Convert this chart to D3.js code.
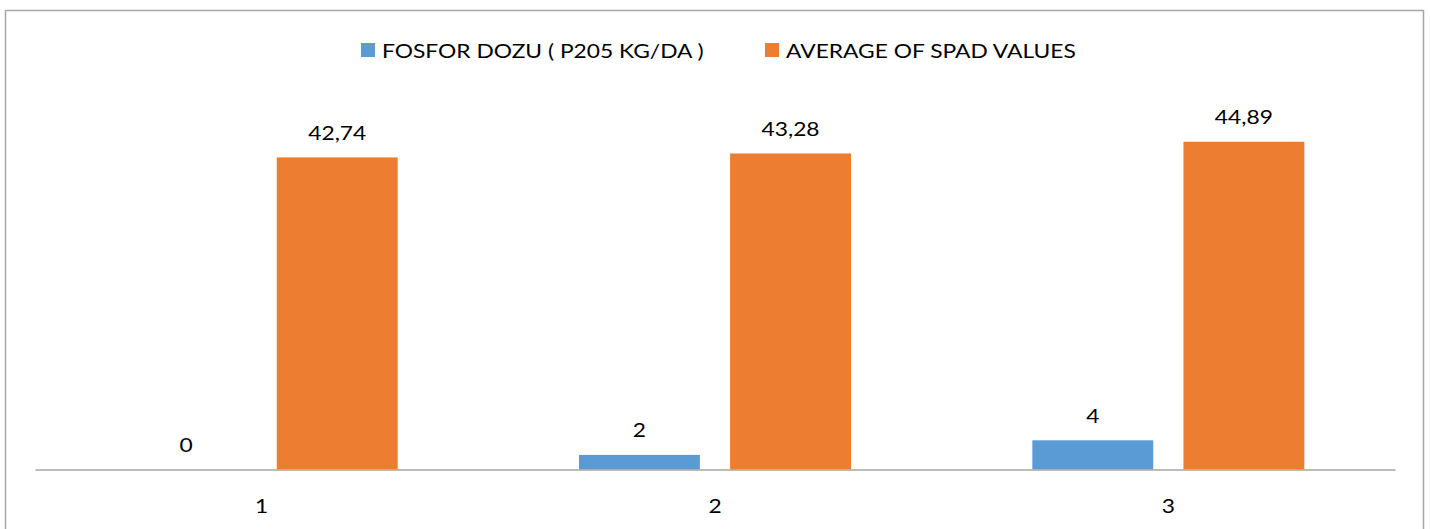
<!DOCTYPE html>
<html>
<head>
<meta charset="utf-8">
<script src="https://cdn.jsdelivr.net/npm/d3@7"></script>
<style>
  html, body { margin: 0; padding: 0; background: #fff; }
  svg text { font-family: Lato, "Open Sans", sans-serif; fill: #000; }
</style>
</head>
<body>
<svg id="chart" width="1430" height="529"></svg>
<script>
const categories = ['1', '2', '3'];
const seriesNames = ['FOSFOR DOZU ( P205 KG/DA )', 'AVERAGE OF SPAD VALUES'];
const fosforDozu = [0, 2, 4];
const spadAverage = [42.74, 43.28, 44.89];
const seriesColors = ['#5B9BD5', '#ED7D31'];

const svg = d3.select('#chart');
const stretch = 1.14; // source picture is a bit wider than its fonts

// outer chart border
svg.append('rect')
  .attr('x', 5.5).attr('y', 10.5)
  .attr('width', 1418).attr('height', 530)
  .attr('fill', 'none')
  .attr('stroke', '#a6a6a6')
  .attr('stroke-width', 1.5);

const baseY = 469.5;
const x0 = d3.scaleBand().domain(categories).range([35, 1395]);
const bw = x0.bandwidth();
const x1 = d3.scaleBand().domain(seriesNames)
  .range([bw * 0.2, bw * 0.8])
  .paddingInner(0.2);
const y = d3.scaleLinear().domain([0, 50]).range([baseY, baseY - 365.1]);

const rows = categories.map((c, i) => ({
  cat: c,
  vals: [fosforDozu[i], spadAverage[i]]
}));

const fmt = v => String(v).replace('.', ',');

const groups = svg.selectAll('g.cat')
  .data(rows)
  .enter().append('g')
  .attr('class', 'cat')
  .attr('transform', d => `translate(${x0(d.cat)},0)`);

groups.selectAll('rect')
  .data(d => d.vals.map((v, k) => ({ v, k })))
  .enter().append('rect')
  .attr('x', d => x1(seriesNames[d.k]))
  .attr('width', x1.bandwidth())
  .attr('y', d => y(d.v))
  .attr('height', d => y(0) - y(d.v))
  .attr('fill', d => seriesColors[d.k]);

groups.selectAll('text.val')
  .data(d => d.vals.map((v, k) => ({ v, k })))
  .enter().append('text')
  .attr('class', 'val')
  .attr('transform', d =>
    `translate(${x1(seriesNames[d.k]) + x1.bandwidth() / 2},${y(d.v) - 17.5}) scale(${stretch},1)`)
  .attr('text-anchor', 'middle')
  .attr('font-size', 20)
  .text(d => fmt(d.v));

// baseline axis
const xAxis = svg.append('g')
  .attr('transform', `translate(0,${baseY})`)
  .call(d3.axisBottom(x0).tickSize(0).tickPadding(29));
xAxis.select('.domain').attr('stroke', '#a6a6a6').attr('stroke-width', 1.5);
xAxis.selectAll('text')
  .attr('font-size', 20)
  .attr('transform', `scale(${stretch},1)`)
  .attr('x', 0)
  .style('font-family', 'Lato, "Open Sans", sans-serif')
  .attr('fill', '#000');

// legend
const legendItems = [
  { name: seriesNames[0], color: seriesColors[0], x: 361 },
  { name: seriesNames[1], color: seriesColors[1], x: 765 }
];
const lg = svg.selectAll('g.legend')
  .data(legendItems)
  .enter().append('g')
  .attr('class', 'legend')
  .attr('transform', d => `translate(${d.x},43)`);
lg.append('rect')
  .attr('width', 14).attr('height', 14)
  .attr('fill', d => d.color);
lg.append('text')
  .attr('transform', `translate(21,15) scale(${stretch},1)`)
  .attr('font-size', 20)
  .text(d => d.name);
</script>
</body>
</html>
